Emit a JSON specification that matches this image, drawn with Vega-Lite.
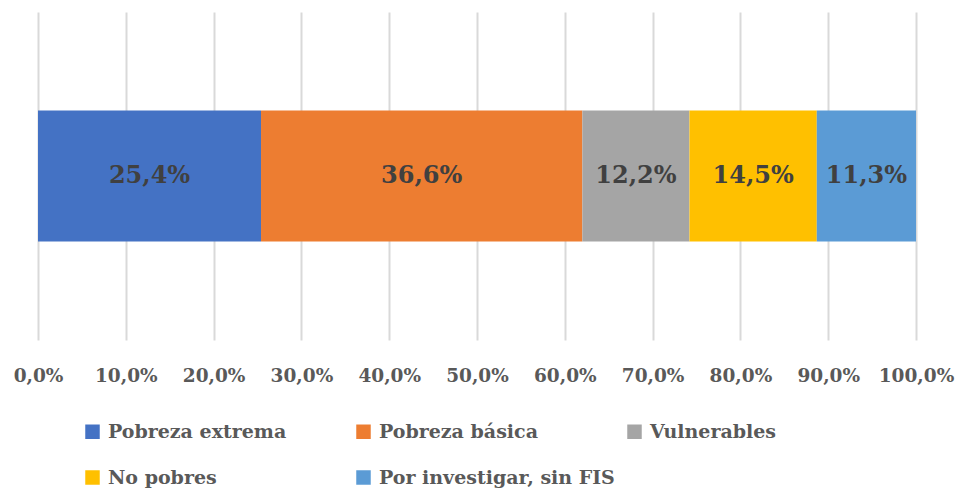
{
  "$schema": "https://vega.github.io/schema/vega-lite/v6.json",
  "width": 878,
  "height": 328,
  "autosize": {"type": "none"},
  "padding": {"left": 38, "top": 12, "right": 39, "bottom": 152},
  "background": "white",
  "data": {"values": [
    {"cat": "Pobreza extrema", "v": 0.254, "o": 1},
    {"cat": "Pobreza básica", "v": 0.366, "o": 2},
    {"cat": "Vulnerables", "v": 0.122, "o": 3},
    {"cat": "No pobres", "v": 0.145, "o": 4},
    {"cat": "Por investigar, sin FIS", "v": 0.113, "o": 5}
  ]},
  "encoding": {
    "y": {"value": 164},
    "x": {"field": "v", "type": "quantitative", "stack": "zero",
      "scale": {"domain": [0, 1], "nice": false},
      "axis": {"values": [0,0.1,0.2,0.3,0.4,0.5,0.6,0.7,0.8,0.9,1.0],
        "format": ".1%", "labelOverlap": false, "labelFlush": false, "labelBound": false,
        "domain": false, "ticks": false, "grid": true, "gridColor": "#D9D9D9", "gridWidth": 2,
        "labelFont": "DejaVu Serif", "labelFontWeight": "bold", "labelFontSize": 18.5, "labelColor": "#595959",
        "labelPadding": 26, "title": null}},
    "order": {"field": "o", "type": "quantitative"}
  },
  "layer": [
    {"mark": {"type": "bar", "height": 131},
     "encoding": {"color": {"field": "cat", "type": "nominal",
       "sort": ["Pobreza extrema", "Pobreza básica", "Vulnerables", "No pobres", "Por investigar, sin FIS"],
       "scale": {"domain": ["Pobreza extrema", "Pobreza básica", "Vulnerables", "No pobres", "Por investigar, sin FIS"],
         "range": ["#4472C4", "#ED7D31", "#A5A5A5", "#FFC000", "#5B9BD5"]},
       "legend": {"title": null, "orient": "none", "legendX": 45, "legendY": 410, "columns": 3, "direction": "horizontal",
         "gridAlign": "all", "columnPadding": 10, "rowPadding": 26,
         "symbolType": "square", "symbolSize": 210, "symbolStrokeWidth": 0, "symbolOffset": 0,
         "labelFont": "DejaVu Serif", "labelFontWeight": "bold", "labelFontSize": 19, "labelColor": "#595959",
         "labelLimit": 400, "labelOffset": 6}}}},
    {"mark": {"type": "text", "font": "DejaVu Serif", "fontWeight": "bold", "fontSize": 24, "color": "#404040"},
     "encoding": {"x": {"field": "v", "type": "quantitative", "stack": "zero", "bandPosition": 0.5},
       "text": {"field": "v", "type": "quantitative", "format": ".1%"}}}
  ],
  "config": {"view": {"stroke": null},
    "locale": {"number": {"decimal": ",", "thousands": ".", "grouping": [3], "currency": ["", " €"]}}}
}
